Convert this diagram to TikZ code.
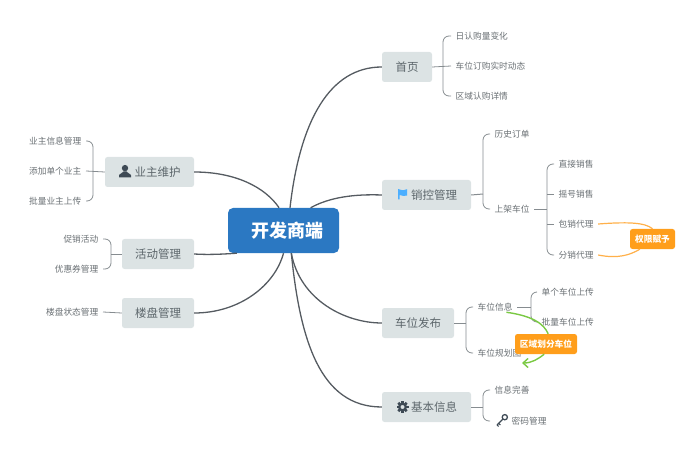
\documentclass[tikz,border=0pt]{standalone}
\usepackage{fontspec}
\setmainfont{Noto Sans CJK SC}
\usetikzlibrary{arrows.meta,calc}
\definecolor{rootblue}{HTML}{2B78C2}
\definecolor{topicgrey}{HTML}{DCE3E4}
\definecolor{topictext}{HTML}{5C666B}
\definecolor{leaftext}{HTML}{6A7074}
\definecolor{branchline}{HTML}{555B61}
\definecolor{leafline}{HTML}{868C90}
\definecolor{tagorange}{HTML}{FF9E1B}
\definecolor{tagline}{HTML}{FFB04A}
\definecolor{linkgreen}{HTML}{7AC943}
\definecolor{icondark}{HTML}{3E4A55}
\tikzset{
	root/.style={fill=rootblue, text=white, rounded corners=5pt, minimum width=111pt, minimum height=45pt, inner sep=0pt, font=\fontsize{18}{18}\selectfont\bfseries},
	topic/.style={fill=topicgrey, text=topictext, rounded corners=2.5pt, minimum height=30pt, inner sep=0pt, font=\fontsize{11.5}{12}\selectfont},
	leaf/.style={text=leaftext, inner xsep=4.5pt, inner ysep=1pt, font=\fontsize{8.7}{9}\selectfont},
	tag/.style={fill=tagorange, text=white, rounded corners=2.5pt, minimum height=20pt, inner sep=0pt, font=\fontsize{8.7}{9}\selectfont\bfseries},
	branch/.style={branchline, line width=1.3pt},
	twig/.style={leafline, line width=0.8pt},
	brace/.style={twig, rounded corners=6pt},
	orangelink/.style={tagline, line width=1.2pt},
	greenlink/.style={linkgreen, line width=1.4pt},
	personicon/.pic={
		\fill[icondark] (0,-3.4) circle (3.2);
		\fill[icondark] (-6,6) -- (-6,4) .. controls (-6,2) and (-2,2) .. (-1.5,0) -- (1.5,0) .. controls (2,2) and (6,2) .. (6,4) -- (6,6) -- cycle;
	},
	flagicon/.pic={
		\fill[blue!45!cyan!70!white] (-4.5,-5) -- (-1,-4) .. controls (1,-3.5) and (2,-4.2) .. (4.5,-4.8) -- (4.5,1.5) .. controls (2,2.2) and (0,2.2) .. (-3,1) -- (-3,5.5) -- (-4.5,5.5) -- cycle;
	},
	gearicon/.pic={
		\fill[icondark, even odd rule] (0,0) circle (4.6) (0,0) circle (2.1);
		\foreach \ang in {0,45,...,315}
			\fill[icondark, rotate=\ang] (-1.3,-4) rectangle (1.3,-6);
	},
	keyicon/.pic={
		\draw[icondark, line width=1.3pt] (2.8,-2.8) circle (2.6);
		\draw[icondark, line width=1.3pt] (1,-1) -- (-5,5);
		\draw[icondark, line width=1.1pt] (-3.4,3.4) -- (-1.6,5) (-5,5) -- (-3.4,6.4);
	},
}
\begin{document}
\begin{tikzpicture}[x=1pt, y=-1pt]
	\useasboundingbox (0,0) rectangle (696,457);

	% main topics
	\node[root] (kaifa) at (283.5,230.5) {\hspace*{7pt}开发商端};
	\node[topic, minimum width=50pt] (shouye) at (407,67) {首页};
	\node[topic, minimum width=89pt] (xiaokong) at (426.5,195) {\hspace*{15pt}销控管理};
	\node[topic, minimum width=72pt] (fabu) at (418,323) {车位发布};
	\node[topic, minimum width=89pt] (jiben) at (426.5,407) {\hspace*{15pt}基本信息};
	\node[topic, minimum width=89pt] (yezhu) at (149.5,172) {\hspace*{16pt}业主维护};
	\node[topic, minimum width=72pt] (huodong) at (158,254) {活动管理};
	\node[topic, minimum width=72pt] (loupan) at (158,313) {楼盘管理};

	% icons
	\pic at (125,171.5) {personicon};
	\pic at (402.5,194) {flagicon};
	\pic at (402.5,407) {gearicon};
	\pic at (502,420) {keyicon};

	% leaves on the right
	\node[leaf, anchor=west] (rengou) at (451,36) {日认购量变化};
	\node[leaf, anchor=west] (dongtai) at (451,66) {车位订购实时动态};
	\node[leaf, anchor=west] (xiangqing) at (451,96) {区域认购详情};
	\node[leaf, anchor=west] (lishi) at (490,134) {历史订单};
	\node[leaf, anchor=west] (shangjia) at (490,209) {上架车位};
	\node[leaf, anchor=west] (zhijie) at (554,164) {直接销售};
	\node[leaf, anchor=west] (yaohao) at (554,194) {摇号销售};
	\node[leaf, anchor=west] (baoxiao) at (554,224) {包销代理};
	\node[leaf, anchor=west] (fenxiao) at (554,255) {分销代理};
	\node[leaf, anchor=west] (xinxi) at (473,307) {车位信息};
	\node[leaf, anchor=west] (guihua) at (473,353) {车位规划图};
	\node[leaf, anchor=west] (danger) at (537,292) {单个车位上传};
	\node[leaf, anchor=west] (piliang) at (537,322) {批量车位上传};
	\node[leaf, anchor=west] (wanshan) at (490,390) {信息完善};
	\node[leaf, anchor=west] (mima) at (490,421) {\hspace*{17pt}密码管理};

	% leaves on the left
	\node[leaf, anchor=east] (yzxinxi) at (86,141) {业主信息管理};
	\node[leaf, anchor=east] (yzdange) at (86,171) {添加单个业主};
	\node[leaf, anchor=east] (yzpiliang) at (86,201) {批量业主上传};
	\node[leaf, anchor=east] (cuxiao) at (103,239) {促销活动};
	\node[leaf, anchor=east] (youhui) at (103,269) {优惠券管理};
	\node[leaf, anchor=east] (zhuangtai) at (103,312) {楼盘状态管理};

	% trunk points of the braces
	\coordinate (tshouye) at (443,66);
	\coordinate (txiaokong) at (483,194);
	\coordinate (tshangjia) at (547,209);
	\coordinate (tfabu) at (466,323);
	\coordinate (txinxi) at (531,307);
	\coordinate (tjiben) at (483,407);
	\coordinate (tyezhu) at (93,171);
	\coordinate (thuodong) at (111,254);
	\coordinate (greenend) at (522,363);

	% root to topics
	\draw[branch] (kaifa.74) .. controls (300,120) and (330,67) .. (shouye.west);
	\draw[branch] (kaifa.40) .. controls (330,197) and (355,194) .. (xiaokong.west);
	\draw[branch] (kaifa.-71) .. controls (300,300) and (345,323) .. (fabu.west);
	\draw[branch] (kaifa.-71) .. controls (300,340) and (320,407) .. (jiben.west);
	\draw[branch] (yezhu.east) .. controls (235,172) and (265,187) .. (kaifa.101);
	\draw[branch] (huodong.east) .. controls (210,255) and (225,254) .. (kaifa.206);
	\draw[branch] (loupan.east) .. controls (240,313) and (275,285) .. (kaifa.270);

	% topics to leaves
	\draw[brace] (rengou.west) -| (tshouye) |- (xiangqing.west);
	\draw[twig] (shouye.east) -- (dongtai.west);
	\draw[brace] (lishi.west) -| (txiaokong) |- (shangjia.west);
	\draw[twig, line width=1pt] (xiaokong.east) -- (txiaokong);
	\draw[brace] (zhijie.west) -| (tshangjia) |- (fenxiao.west);
	\draw[twig] (shangjia.east) -- (tshangjia);
	\draw[twig] (tshangjia |- yaohao.west) -- (yaohao.west);
	\draw[twig] (tshangjia |- baoxiao.west) -- (baoxiao.west);
	\draw[brace] (xinxi.west) -| (tfabu) |- (guihua.west);
	\draw[twig] (fabu.east) -- (tfabu);
	\draw[brace] (danger.west) -| (txinxi) |- (piliang.west);
	\draw[twig] (xinxi.east) -- (txinxi);
	\draw[brace] (wanshan.west) -| (tjiben) |- (mima.west);
	\draw[twig] (jiben.east) -- (tjiben);
	\draw[brace] (yzxinxi.east) -| (tyezhu) |- (yzpiliang.east);
	\draw[twig] (yezhu.west) -- (yzdange.east);
	\draw[brace] (cuxiao.east) -| (thuodong) |- (youhui.east);
	\draw[twig] (huodong.west) -- (thuodong);
	\draw[twig] (loupan.west) -- (zhuangtai.east);

	% orange tags and their links
	\node[tag, minimum width=45pt] (quanxian) at (652.5,239) {权限赋予};
	\node[tag, minimum width=62pt] (quyu) at (546,344) {区域划分车位};
	\draw[orangelink] (baoxiao.east) .. controls (625,222) and (645,222) .. (quanxian.90);
	\draw[orangelink] (fenxiao.east) .. controls (618,259) and (630,255) .. (quanxian.219);
	\draw[greenlink] (xinxi.-25) .. controls (533,316) and (544,324) .. (quyu.78);
	\draw[greenlink, -{Straight Barb[length=5pt,width=9pt]}] (quyu.-100) .. controls (538,359) and (532,363) .. (greenend);
\end{tikzpicture}
\end{document}
